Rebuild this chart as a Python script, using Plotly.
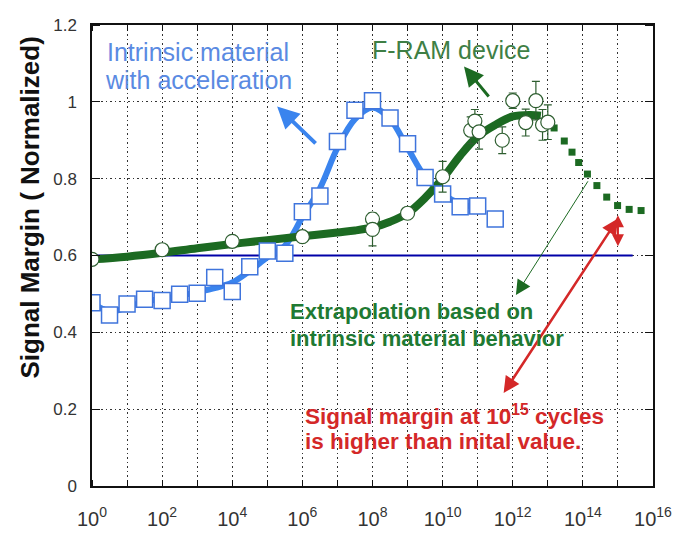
import plotly.graph_objects as go

# ---------------- data (x given as log10 of cycles) ----------------
blue_exp = [0, 0.5, 1, 1.5, 2, 2.5, 3, 3.5, 4, 4.5, 5, 5.5, 6, 6.5, 7, 7.5, 8, 8.5, 9, 9.5, 10, 10.5, 11, 11.5]
blue_y = [0.477, 0.445, 0.474, 0.486, 0.483, 0.499, 0.502, 0.543, 0.506, 0.571, 0.612, 0.606,
          0.714, 0.755, 0.897, 0.978, 1.003, 0.958, 0.891, 0.803, 0.760, 0.727, 0.729, 0.695]

blue_fit_exp = [0, 0.5, 1, 1.5, 2, 2.5, 3, 3.5, 4, 4.5, 5, 5.5, 6, 6.5, 7, 7.5, 8, 8.5, 9, 9.5, 10, 10.5, 11]
blue_fit_y = [0.477, 0.455, 0.465, 0.480, 0.487, 0.495, 0.505, 0.515, 0.530, 0.560, 0.595, 0.625,
              0.700, 0.775, 0.880, 0.955, 0.985, 0.955, 0.880, 0.805, 0.760, 0.735, 0.725]

green_exp = [0, 2, 4, 6, 8, 8, 9, 10, 10.8, 10.92, 11.04, 11.7, 12.0, 12.37, 12.66, 12.85, 13.0]
green_y = [0.590, 0.615, 0.637, 0.649, 0.695, 0.668, 0.710, 0.805, 0.926, 0.950, 0.922, 0.900,
           1.003, 0.946, 1.003, 0.940, 0.947]
green_err = [0, 0, 0, 0, 0, 0.043, 0, 0.040, 0.035, 0.030, 0.045, 0.035, 0.020, 0.035, 0.050, 0.040, 0.045]

green_fit_exp = [0, 1, 2, 3, 4, 5, 6, 7, 7.5, 8, 8.5, 9, 9.5, 10, 10.5, 11, 11.5, 12, 12.5, 12.8]
green_fit_y = [0.590, 0.597, 0.607, 0.619, 0.630, 0.640, 0.650, 0.660, 0.665, 0.673, 0.688, 0.710,
               0.750, 0.800, 0.860, 0.910, 0.940, 0.962, 0.966, 0.964]

extrap_exp = [13.18, 13.47, 13.69, 13.88, 14.13, 14.4, 14.68, 14.99, 15.32, 15.66]
extrap_y = [0.932, 0.898, 0.869, 0.842, 0.812, 0.782, 0.752, 0.730, 0.720, 0.717]

ref_exp = [0, 15.42]
ref_y = [0.6, 0.6]

x_tick_exp = list(range(0, 17))
x_tick_text = [("10<sup>%d</sup>" % e) if e % 2 == 0 else "" for e in x_tick_exp]


def cyc(exps):
    return [10.0 ** e for e in exps]


BLUE_LINE = "#3a84ee"
BLUE_MK = "#3f74dc"
BLUE_TXT = "#5a8ae2"
GREEN = "#1c6a22"
GREEN_MK = "#2e5e30"
GREEN_TXT = "#3f7f45"
GREEN_BOLD = "#1f7a33"
RED = "#d42828"
NAVY = "#0000a8"
GRID = "#333333"
CLEAR = "rgba(0,0,0,0)"

fig = go.Figure()

fig.add_trace(go.Scatter(x=cyc(ref_exp), y=ref_y, mode="lines",
                         line=dict(color=NAVY, width=2.2), hoverinfo="skip"))
fig.add_trace(go.Scatter(x=cyc(blue_fit_exp), y=blue_fit_y, mode="lines",
                         line=dict(color=BLUE_LINE, width=6, shape="spline"), hoverinfo="skip"))
fig.add_trace(go.Scatter(x=cyc(green_fit_exp), y=green_fit_y, mode="lines",
                         line=dict(color=GREEN, width=8, shape="spline"), hoverinfo="skip"))
fig.add_trace(go.Scatter(x=cyc(extrap_exp), y=extrap_y, mode="markers",
                         marker=dict(symbol="square", size=7, color=GREEN, line=dict(width=0))))
fig.add_trace(go.Scatter(x=cyc(blue_exp), y=blue_y, mode="markers",
                         marker=dict(symbol="square", size=16, color="white",
                                     line=dict(color=BLUE_MK, width=1.5))))
fig.add_trace(go.Scatter(x=cyc(green_exp), y=green_y, mode="markers",
                         error_y=dict(type="data", array=green_err, color=GREEN_MK, thickness=1.2, width=4),
                         marker=dict(symbol="circle", size=14, color="white",
                                     line=dict(color=GREEN_MK, width=1.2))))

ann = []


def arrow(x0, y0, x1, y1, color, width, size=1.0, head=2, side="end"):
    ann.append(dict(x=x1, y=y1, ax=x0, ay=y0, xref="x", yref="y", axref="x", ayref="y",
                    text="", showarrow=True, arrowhead=head, arrowsize=size,
                    arrowwidth=width, arrowcolor=color, arrowside=side, startarrowhead=head,
                    startarrowsize=size))


def label(x, y, text, color, size, bold=False, family="Arial"):
    ann.append(dict(x=x, y=y, xref="x", yref="y", text=("<b>%s</b>" % text) if bold else text,
                    showarrow=False, xanchor="left", yanchor="middle",
                    font=dict(family=family, size=size, color=color)))


arrow(6.42, 0.888, 5.28, 0.988, BLUE_LINE, 4, 1.1)
arrow(11.35, 1.010, 10.61, 1.092, GREEN, 3, 1.3)
arrow(14.17, 0.797, 12.09, 0.497, GREEN, 1, 3)
arrow(15.03, 0.700, 11.74, 0.242, RED, 2.5, 1.3, side="end+start")
arrow(15.0, 0.62, 15.0, 0.705, RED, 2, 1.2, side="end+start")

label(0.37, 1.131, "Intrinsic material", BLUE_TXT, 25)
label(0.31, 1.057, "with acceleration", BLUE_TXT, 25)
label(7.93, 1.135, "F-RAM device", GREEN_TXT, 25)
label(5.59, 0.454, "Extrapolation based on", GREEN_BOLD, 22, True)
label(5.59, 0.383, "intrinsic material behavior", GREEN_BOLD, 22, True)
label(6.02, 0.185, "Signal margin at 10<sup>15</sup> cycles", RED, 22.5, True)
label(6.02, 0.115, "is higher than inital value.", RED, 22.5, True)

ann.append(dict(xref="paper", yref="paper", x=-0.14, y=0.605, text="<b>Signal Margin ( Normalized)</b>",
                textangle=-90, showarrow=False, font=dict(family="Arial", size=26, color="#111")))

# page body has an 8px margin, so the figure is drawn 8px down and right
fig.update_layout(
    width=675, height=526,
    margin=dict(l=84, r=30, t=17, b=48, autoexpand=False),
    paper_bgcolor="white", plot_bgcolor="white",
    showlegend=False,
    annotations=ann,
    font=dict(family="Arial", color="#222"),
)

# major ticks are invisible and outside (they only set the label offset);
# the visible inside tick marks come from the minor ticks
fig.update_xaxes(type="log", range=[0, 16], automargin=False,
                 tickvals=cyc(x_tick_exp), ticktext=x_tick_text,
                 ticks="outside", ticklen=14, tickcolor=CLEAR, tickwidth=1,
                 showline=True, linecolor="#111", linewidth=1.5, mirror="ticks",
                 showgrid=True, gridcolor=GRID, griddash="1.5px,3px", gridwidth=1.3,
                 tickfont=dict(family="Arial", size=20, color="#333"),
                 zeroline=False,
                 minor=dict(ticks="inside", dtick=1, ticklen=6, tickcolor="#111", tickwidth=1,
                            showgrid=False))

fig.update_yaxes(range=[0, 1.2], dtick=0.2, automargin=False,
                 ticks="outside", ticklen=10, tickcolor=CLEAR, tickwidth=1,
                 showline=True, linecolor="#111", linewidth=1.5, mirror="ticks",
                 showgrid=True, gridcolor=GRID, griddash="1.5px,3px", gridwidth=1.3,
                 tickfont=dict(family="Arial", size=17, color="#333"),
                 zeroline=False,
                 minor=dict(ticks="inside", dtick=0.2, ticklen=8, tickcolor="#111", tickwidth=1.2,
                            showgrid=False))

fig.write_html("out.html")
